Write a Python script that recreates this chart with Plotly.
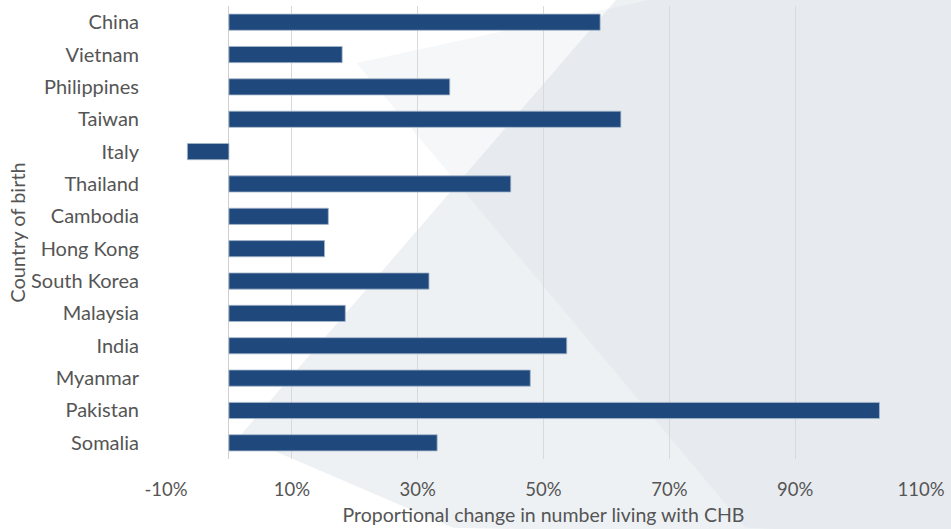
import plotly.graph_objects as go

# Country of birth (top to bottom) and proportional change (%)
countries = ["China", "Vietnam", "Philippines", "Taiwan", "Italy", "Thailand",
             "Cambodia", "Hong Kong", "South Korea", "Malaysia", "India",
             "Myanmar", "Pakistan", "Somalia"]
change_pct = [59.0, 18.0, 35.1, 62.3, -6.6, 44.8,
              15.8, 15.2, 31.8, 18.5, 53.7,
              47.9, 103.4, 33.1]

tick_vals = [-10, 10, 30, 50, 70, 90, 110]
tick_text = ["-10%", "10%", "30%", "50%", "70%", "90%", "110%"]

W, H = 951, 529
M = dict(l=166, r=28, t=6, b=69)
PW = W - M["l"] - M["r"]
PH = H - M["t"] - M["b"]


def paper(px, py):
    """Figure pixel position -> paper coordinates."""
    return (px - M["l"]) / PW, (H - M["b"] - py) / PH


def path(points):
    pts = [paper(x, y) for x, y in points]
    return "M " + " L ".join(f"{x:.4f},{y:.4f}" for x, y in pts) + " Z"


def intersect(a1, a2, b1, b2):
    (x1, y1), (x2, y2) = a1, a2
    (x3, y3), (x4, y4) = b1, b2
    d = (x1 - x2) * (y3 - y4) - (y1 - y2) * (x3 - x4)
    t = ((x1 - x3) * (y3 - y4) - (y1 - y3) * (x3 - x4)) / d
    return x1 + t * (x2 - x1), y1 + t * (y2 - y1)


# Decorative background facets
A = (240, 437)      # apex of the lower facet
B = (617, 0)        # its upper edge meets the top border
C = (454, 529)      # its lower edge meets the bottom border
D = (357, 63)       # apex of the upper facet
E = (650, 0)        # upper facet's top edge at the top border
F = (747, 529)      # upper facet's lower edge at the bottom border
X = intersect(A, B, D, F)
P = intersect(A, B, D, E)
R = 1000

shapes = [
    dict(type="path", xref="paper", yref="paper", layer="below",
         path=path([A, B, (R, 0), (R, H + 10), C]),
         fillcolor="#EEF1F4", line=dict(width=0)),
    dict(type="path", xref="paper", yref="paper", layer="below",
         path=path([D, P, X]),
         fillcolor="#F6F7F8", line=dict(width=0)),
    dict(type="path", xref="paper", yref="paper", layer="below",
         path=path([X, P, E, (R, 0), (R, H + 10), F]),
         fillcolor="#E7EBEF", line=dict(width=0)),
]

fig = go.Figure(go.Bar(
    x=change_pct, y=countries, orientation="h",
    marker=dict(color="#1F497D", line=dict(color="#A7B7CB", width=0.8)),
    width=0.5,
))

font_family = "Lato, 'Open Sans', sans-serif"
grey = "#555555"

fig.update_layout(
    width=W, height=H, margin=M,
    paper_bgcolor="white", plot_bgcolor="rgba(0,0,0,0)",
    shapes=shapes, showlegend=False,
    font=dict(family=font_family, color=grey, size=20),
    xaxis=dict(
        range=[-10, 110], tickvals=tick_vals, ticktext=tick_text,
        showgrid=True, gridcolor="#D9D9D9", gridwidth=1,
        zeroline=True, zerolinecolor="#D0D0D0", zerolinewidth=1,
        showline=False, ticks="outside", ticklen=14, tickcolor="rgba(0,0,0,0)",
        tickfont=dict(size=18.5, color=grey),
        title=dict(text="Proportional change in number living with CHB",
                   font=dict(size=19.5, color=grey), standoff=9),
    ),
    yaxis=dict(
        categoryorder="array", categoryarray=countries, autorange="reversed",
        showgrid=False, showline=False, zeroline=False,
        ticks="outside", ticklen=22, tickcolor="rgba(0,0,0,0)",
        tickfont=dict(size=20, color=grey),
        title=dict(text="Country of birth", font=dict(size=20, color=grey), standoff=0),
    ),
)

fig.write_html("out.html")
